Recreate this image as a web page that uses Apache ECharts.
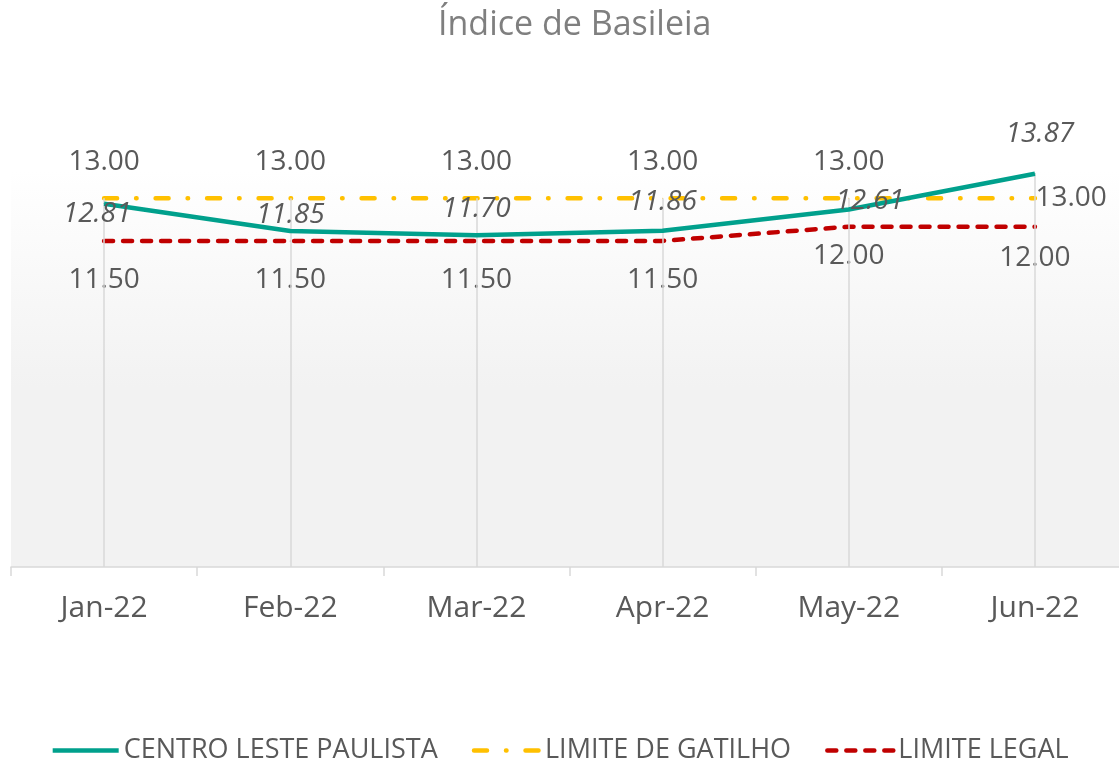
<!DOCTYPE html>
<html>
<head>
<meta charset="utf-8">
<script src="https://cdn.jsdelivr.net/npm/echarts@6/dist/echarts.min.js"></script>
<style>
  html, body { margin: 0; padding: 0; background: #fff; }
  #chart { width: 1119px; height: 767px; }
</style>
</head>
<body>
<div id="chart"></div>
<script>
const months = ['Jan-22', 'Feb-22', 'Mar-22', 'Apr-22', 'May-22', 'Jun-22']
const centroLeste = [12.81, 11.85, 11.70, 11.86, 12.61, 13.87]
const limiteGatilho = [13.00, 13.00, 13.00, 13.00, 13.00, 13.00]
const limiteLegal = [11.50, 11.50, 11.50, 11.50, 12.00, 12.00]

// label placement tweaks (style only)
const centroOffsets = [[-7, 10], [0, -16], [0, -26], [0, -29], [21, -8], [5, -40]]
const legalDistances = [25, 25, 25, 25, 15, 17]

const textColor = '#595959'
const font = 'Open Sans'

const dropLines = months.map((m, i) => [
  { coord: [i, Math.max(centroLeste[i], limiteGatilho[i], limiteLegal[i])] },
  { coord: [i, 0] }
])

const chart = echarts.init(document.getElementById('chart'))

chart.setOption({
  animation: false,
  textStyle: { fontFamily: font },
  title: {
    text: 'Índice de Basileia',
    left: 433,
    top: 3,
    textStyle: { color: '#7f7f7f', fontSize: 34, fontWeight: 'normal', fontFamily: font }
  },
  legend: {
    top: 732,
    left: 'center',
    itemWidth: 66,
    itemHeight: 14,
    itemGap: 34,
    itemStyle: { opacity: 0 },
    lineStyle: { width: 4.5 },
    textStyle: { color: textColor, fontSize: 27, fontFamily: font },
    data: ['CENTRO LESTE PAULISTA', 'LIMITE DE GATILHO', 'LIMITE LEGAL']
  },
  grid: {
    left: 11,
    top: 170,
    width: 1117,
    height: 397,
    outerBoundsMode: 'none',
    show: true,
    borderWidth: 0,
    backgroundColor: new echarts.graphic.LinearGradient(0, 0, 0, 1, [
      { offset: 0, color: '#ffffff' },
      { offset: 0.55, color: '#f2f2f2' },
      { offset: 1, color: '#f2f2f2' }
    ])
  },
  xAxis: {
    type: 'category',
    data: months,
    boundaryGap: true,
    axisLine: { lineStyle: { color: '#d9d9d9', width: 1.5 } },
    axisTick: { show: true, length: 9, lineStyle: { color: '#d9d9d9', width: 1.5 } },
    axisLabel: { color: textColor, fontSize: 30, margin: 26, fontFamily: font },
    splitLine: { show: false }
  },
  yAxis: {
    type: 'value',
    min: 0,
    max: 14,
    show: false,
    splitLine: { show: false }
  },
  series: [
    {
      name: 'LIMITE LEGAL',
      type: 'line',
      data: limiteLegal.map((v, i) => ({
        value: v,
        label: { distance: legalDistances[i] }
      })),
      symbol: 'circle',
      symbolSize: 1,
      z: 3,
      lineStyle: { color: '#c00000', width: 4.5, type: [9, 10], cap: 'round' },
      itemStyle: { color: '#c00000' },
      label: {
        show: true,
        position: 'bottom',
        color: textColor,
        fontSize: 28,
        fontFamily: font,
        formatter: p => p.value.toFixed(2)
      },
      markLine: {
        silent: true,
        symbol: 'none',
        label: { show: false },
        lineStyle: { color: '#d9d9d9', width: 1.5, type: 'solid' },
        data: dropLines
      }
    },
    {
      name: 'LIMITE DE GATILHO',
      type: 'line',
      data: limiteGatilho.map((v, i) => (i === months.length - 1
        ? { value: v, label: { position: 'right', distance: 0 } }
        : v)),
      symbol: 'circle',
      symbolSize: 1,
      z: 4,
      lineStyle: { color: '#ffc000', width: 4.5, type: [13, 19, 0.5, 19], cap: 'round' },
      itemStyle: { color: '#ffc000' },
      label: {
        show: true,
        position: 'top',
        distance: 22,
        color: textColor,
        fontSize: 28,
        fontFamily: font,
        formatter: p => p.value.toFixed(2)
      }
    },
    {
      name: 'CENTRO LESTE PAULISTA',
      type: 'line',
      data: centroLeste.map((v, i) => ({
        value: v,
        label: { offset: centroOffsets[i] }
      })),
      symbol: 'circle',
      symbolSize: 1,
      z: 5,
      lineStyle: { color: '#00a08c', width: 4.5 },
      itemStyle: { color: '#00a08c' },
      label: {
        show: true,
        position: 'inside',
        color: textColor,
        fontSize: 28,
        fontStyle: 'italic',
        fontFamily: font,
        formatter: p => p.value.toFixed(2)
      }
    }
  ]
})
</script>
</body>
</html>
